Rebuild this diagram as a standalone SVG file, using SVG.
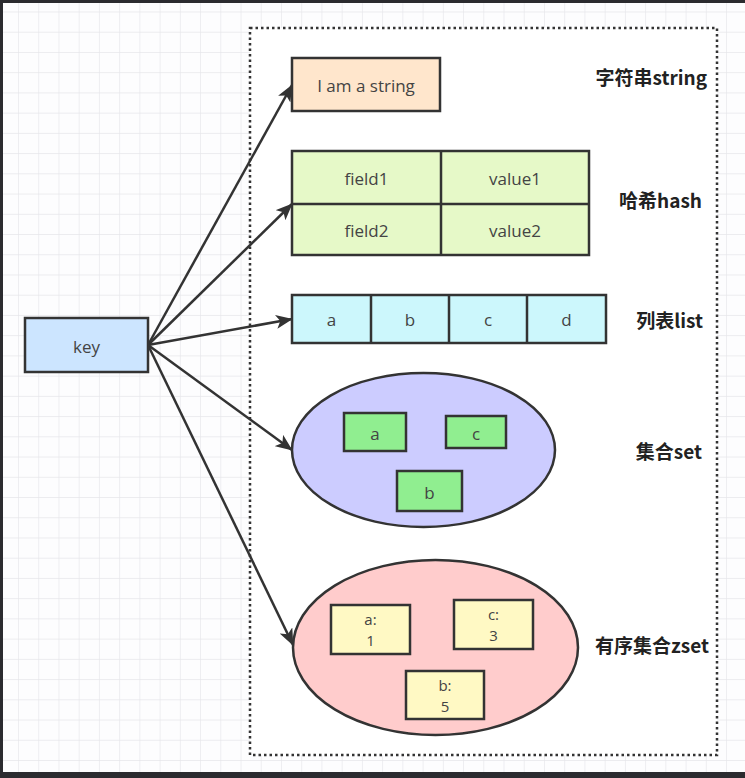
<svg xmlns="http://www.w3.org/2000/svg" width="745" height="778" viewBox="0 0 745 778">
<defs>
<pattern id="grid" x="18" y="11.5" width="20.23" height="20.23" patternUnits="userSpaceOnUse">
<path d="M0 0H20.23M0 0V20.23" fill="none" stroke="#e6e6ea" stroke-width="1.3"/>
</pattern>
<marker id="arrow" viewBox="0 0 12 10" refX="11.5" refY="5" markerWidth="17" markerHeight="14" markerUnits="userSpaceOnUse" orient="auto">
<path d="M0 0L12 5L0 10L3 5Z" fill="#333"/>
</marker>
</defs>
<style>
.box{stroke:#333;stroke-width:2.5}
.t{font-family:"Open Sans","Noto Sans",sans-serif;font-size:17px;fill:#444;text-anchor:middle;dominant-baseline:central}
.t2{font-family:"Open Sans","Noto Sans",sans-serif;font-size:15px;fill:#444;text-anchor:middle}
.lbl{font-family:"Noto Sans CJK SC","Noto Sans",sans-serif;font-size:19px;font-weight:bold;fill:#222;text-anchor:end;dominant-baseline:central}
.edge{stroke:#333;stroke-width:2.5;fill:none;marker-end:url(#arrow)}
</style>
<rect width="745" height="778" fill="#fdfdfe"/>
<rect width="745" height="778" fill="url(#grid)"/>
<rect x="0" y="0" width="745" height="3" fill="#2b2b2f"/>
<rect x="0" y="0" width="3" height="778" fill="#2b2b2f"/>
<rect x="0" y="772" width="745" height="6" fill="#2b2b2f"/>
<rect id="container" x="250" y="28" width="467" height="727" fill="#fff" stroke="#333" stroke-width="2.5" stroke-dasharray="2.5 3"/>
<g id="connectors">
<line class="edge" x1="148" y1="345" x2="292" y2="85"/>
<line class="edge" x1="148" y1="345" x2="292" y2="204"/>
<line class="edge" x1="148" y1="345" x2="292" y2="319"/>
<line class="edge" x1="148" y1="345" x2="292" y2="450"/>
<line class="edge" x1="148" y1="345" x2="293" y2="645"/>
</g>
<g id="key">
<rect class="box" x="25" y="318" width="123" height="54" fill="#cce5ff"/>
<text class="t" x="86.5" y="346">key</text>
</g>
<g id="string">
<rect class="box" x="292" y="58" width="148" height="53" fill="#ffe6cc"/>
<text class="t" x="366" y="85">I am a string</text>
<text class="lbl" x="707" y="76">字符串string</text>
</g>
<g id="hash">
<rect class="box" x="292" y="151" width="297" height="104" fill="#e6f9c8"/>
<line class="box" x1="441" y1="151" x2="441" y2="255"/>
<line class="box" x1="292" y1="204" x2="589" y2="204"/>
<text class="t" x="366.5" y="178">field1</text>
<text class="t" x="515" y="178">value1</text>
<text class="t" x="366.5" y="230">field2</text>
<text class="t" x="515" y="230">value2</text>
<text class="lbl" x="702" y="199">哈希hash</text>
</g>
<g id="list">
<rect class="box" x="292" y="295" width="314" height="48" fill="#ccf7fc"/>
<line class="box" x1="371" y1="295" x2="371" y2="343"/>
<line class="box" x1="449" y1="295" x2="449" y2="343"/>
<line class="box" x1="527" y1="295" x2="527" y2="343"/>
<text class="t" x="331.5" y="319">a</text>
<text class="t" x="410" y="319">b</text>
<text class="t" x="488" y="319">c</text>
<text class="t" x="566.5" y="319">d</text>
<text class="lbl" x="703" y="319">列表list</text>
</g>
<g id="set">
<ellipse class="box" cx="423.5" cy="450" rx="131.5" ry="77" fill="#ccccff"/>
<rect class="box" x="344" y="413" width="62" height="38" fill="#90ee90"/>
<text class="t" x="375" y="433">a</text>
<rect class="box" x="446" y="416" width="60" height="32" fill="#90ee90"/>
<text class="t" x="476" y="433">c</text>
<rect class="box" x="397" y="471" width="65" height="40" fill="#90ee90"/>
<text class="t" x="429.5" y="492">b</text>
<text class="lbl" x="702" y="450">集合set</text>
</g>
<g id="zset">
<ellipse class="box" cx="435.5" cy="647.5" rx="142.5" ry="87.5" fill="#ffcccc"/>
<rect class="box" x="331" y="605" width="79" height="49" fill="#fff9c4"/>
<text class="t2" x="370.5" y="625"><tspan x="370.5">a:</tspan><tspan x="370.5" dy="21">1</tspan></text>
<rect class="box" x="454" y="600" width="79" height="49" fill="#fff9c4"/>
<text class="t2" x="493.5" y="620"><tspan x="493.5">c:</tspan><tspan x="493.5" dy="21">3</tspan></text>
<rect class="box" x="406" y="671" width="78" height="48" fill="#fff9c4"/>
<text class="t2" x="445" y="691"><tspan x="445">b:</tspan><tspan x="445" dy="21">5</tspan></text>
<text class="lbl" x="709" y="644">有序集合zset</text>
</g>
</svg>
